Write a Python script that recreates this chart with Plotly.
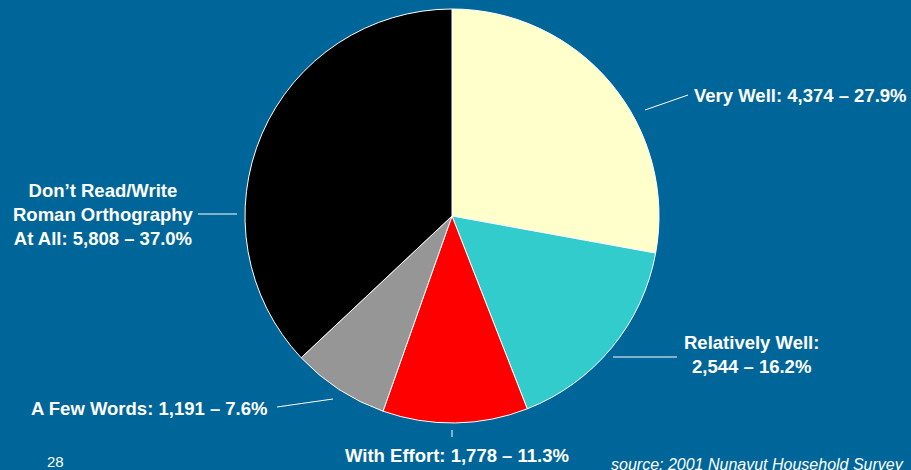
import plotly.graph_objects as go

# 数据
categories = ["Very Well", "Relatively Well", "With Effort", "A Few Words",
              "Don’t Read/Write Roman Orthography At All"]
counts = [4374, 2544, 1778, 1191, 5808]
colors = ["#FFFFCC", "#33CCCC", "#FF0000", "#969696", "#000000"]

W, H = 911, 470
BG = "#006699"


def px(x):
    return x / W


def py(y):
    return 1 - y / H


total = sum(counts)
pcts = [c / total * 100 for c in counts]
labels = [f"{c:,}" + " – " + f"{p:.1f}%" for c, p in zip(counts, pcts)]

fig = go.Figure()

fig.add_trace(go.Pie(
    labels=categories,
    values=counts,
    sort=False,
    direction="clockwise",
    rotation=0,
    marker=dict(colors=colors, line=dict(color="white", width=1)),
    textinfo="none",
    hoverinfo="label+value+percent",
    domain=dict(x=[px(245), px(659)], y=[py(423), py(9)]),
    showlegend=False,
))

font = dict(family="Liberation Sans, Arial, sans-serif", size=18.5, color="white")

# 标签文字（位置）
text_items = [
    (f"<b>Very Well: {labels[0]}</b>", 692, 96, "left"),
    (f"<b>Relatively Well:<br>{labels[1]}</b>", 751, 354, "center"),
    (f"<b>With Effort: {labels[2]}</b>", 457, 455, "center"),
    (f"<b>A Few Words: {labels[3]}</b>", 269, 408, "right"),
    (f"<b>Don’t Read/Write<br>Roman Orthography<br>At All: {labels[4]}</b>", 103, 214, "center"),
]
for txt, x, y, al in text_items:
    fig.add_annotation(
        text=txt, x=px(x), y=py(y), xref="paper", yref="paper",
        xanchor=al, yanchor="middle", align=al,
        showarrow=False, font=font,
    )

# 引导线
leaders = [
    (645, 110, 688, 95),
    (613, 357, 677, 357),
    (452, 430, 452, 437),
    (277, 407, 333, 399),
    (198, 214, 237, 214),
]
for x0, y0, x1, y1 in leaders:
    fig.add_shape(type="line", xref="paper", yref="paper",
                  x0=px(x0), y0=py(y0), x1=px(x1), y1=py(y1),
                  line=dict(color="white", width=1))

fig.add_annotation(
    text="28", x=px(45), y=py(461), xref="paper", yref="paper",
    xanchor="left", yanchor="middle", showarrow=False,
    font=dict(family="Liberation Sans, Arial, sans-serif", size=15, color="white"),
)
fig.add_annotation(
    text="<i>source: 2001 Nunavut Household Survey</i>",
    x=px(609), y=py(464), xref="paper", yref="paper",
    xanchor="left", yanchor="middle", showarrow=False,
    font=dict(family="Liberation Sans, Arial, sans-serif", size=16, color="white"),
)

fig.update_layout(
    width=W, height=H,
    margin=dict(l=0, r=0, t=0, b=0),
    paper_bgcolor=BG,
    plot_bgcolor=BG,
)

fig.write_html("out.html", config={"displayModeBar": False},
               post_script="document.body.style.margin='0';")
